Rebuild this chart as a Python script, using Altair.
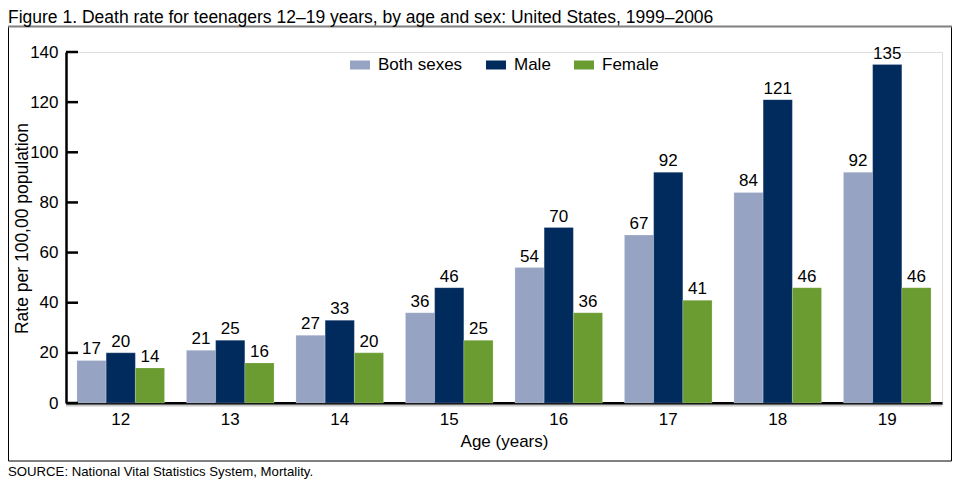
import altair as alt
import pandas as pd

ages = ["12", "13", "14", "15", "16", "17", "18", "19"]
both = [17, 21, 27, 36, 54, 67, 84, 92]
male = [20, 25, 33, 46, 70, 92, 121, 135]
female = [14, 16, 20, 25, 36, 41, 46, 46]
series = ["Both sexes", "Male", "Female"]
colors = ["#96A3C3", "#002B5C", "#6B9C32"]
y_ticks = [0, 20, 40, 60, 80, 100, 120, 140]
title_text = "Figure 1. Death rate for teenagers 12\u201319 years, by age and sex: United States, 1999\u20132006"
source_text = "SOURCE: National Vital Statistics System, Mortality."

FONT = "Liberation Sans"
FS = 17

rows = []
for i, a in enumerate(ages):
    for s, vals in zip(series, [both, male, female]):
        rows.append({"age": a, "sex": s, "rate": vals[i]})
df = pd.DataFrame(rows)

W, H = 876, 351

x = alt.X("age:N", sort=ages,
          scale=alt.Scale(paddingInner=0.2, paddingOuter=0.1),
          axis=alt.Axis(title="Age (years)", labelAngle=0, tickSize=0,
                        domainColor="black", domainWidth=3,
                        labelFont=FONT, labelFontSize=FS, labelColor="black",
                        labelPadding=8, titleFont=FONT, titleFontSize=FS,
                        titleFontWeight="normal", titleColor="black",
                        titlePadding=6))
y = alt.Y("rate:Q", scale=alt.Scale(domain=[0, 140], nice=False),
          axis=alt.Axis(title="Rate per 100,00 population", values=y_ticks,
                        tickSize=0, grid=False, domainColor="black",
                        domainWidth=2.5, labelFont=FONT, labelFontSize=FS,
                        labelColor="black", labelPadding=8,
                        titleFont=FONT, titleFontSize=17.5,
                        titleFontWeight="normal", titleColor="black",
                        titleX=-44, titleY=176, titleBaseline="middle"))
xo = alt.XOffset("sex:N", sort=series,
                 scale=alt.Scale(paddingInner=0, paddingOuter=0))
color = alt.Color("sex:N", sort=series,
                  scale=alt.Scale(domain=series, range=colors),
                  legend=alt.Legend(title=None, orient="none", direction="horizontal",
                                    legendX=284, legendY=3, padding=0,
                                    symbolType="M-1,-0.45H1V0.45H-1Z",
                                    symbolSize=400, symbolStrokeWidth=0,
                                    symbolOpacity=1,
                                    labelFont=FONT, labelFontSize=FS,
                                    labelColor="black", labelOffset=8,
                                    columnPadding=23))

base = alt.Chart(df)

bars = base.mark_bar(stroke="#ffffff", strokeWidth=0.4, strokeOpacity=0.5).encode(
    x=x, y=y, xOffset=xo, color=color)

labels = base.mark_text(baseline="alphabetic", dy=-6, font=FONT, fontSize=FS,
                        color="black").encode(
    x=alt.X("age:N", sort=ages), xOffset=xo, y="rate:Q", text="rate:Q")

tick_df = pd.DataFrame({"v": y_ticks})
ticks = alt.Chart(tick_df).mark_rule(color="black", strokeWidth=2.5).encode(
    y="v:Q", x=alt.value(0), x2=alt.value(12))

one = pd.DataFrame({"v": [0]})
shadow = alt.Chart(one).mark_rule(
    color="#c8c8c8", strokeWidth=2, yOffset=2.5).encode(
    y="v:Q", x=alt.value(0), x2=alt.value(W))

# frame around chart (relative to plot origin)
L, R, T, B = -57.5, 885.5, -25.5, 409
left_b = alt.Chart(one).mark_rule(color="black", strokeWidth=1).encode(
    x=alt.value(L), y=alt.value(T), y2=alt.value(B))
right_b = alt.Chart(one).mark_rule(color="black", strokeWidth=1).encode(
    x=alt.value(R), y=alt.value(T), y2=alt.value(B))
bottom_b = alt.Chart(one).mark_rule(color="black", strokeWidth=1).encode(
    x=alt.value(L), x2=alt.value(R), y=alt.value(B))
top_b = alt.Chart(one).mark_rule(color="#808080", strokeWidth=2).encode(
    x=alt.value(L - 0.5), x2=alt.value(R + 0.5), y=alt.value(T))

title = alt.Chart(pd.DataFrame({"t": [title_text]})).mark_text(
    align="left", baseline="alphabetic", font=FONT, fontSize=17.5, color="black").encode(
    x=alt.value(-58), y=alt.value(-29.5), text="t:N")

source = alt.Chart(pd.DataFrame({"t": [source_text]})).mark_text(
    align="left", baseline="alphabetic", font=FONT, fontSize=13.2, color="black").encode(
    x=alt.value(-58), y=alt.value(424), text="t:N")

chart = alt.layer(left_b, right_b, bottom_b, top_b, shadow, bars, labels, ticks,
                  title, source).properties(
    width=W, height=H,
    autosize=alt.AutoSizeParams(type="none"),
    padding={"left": 58, "top": 44, "right": 10, "bottom": 76},
).configure_view(stroke=None).configure(background="white")

chart.save("out.html", embed_options={"renderer": "svg", "actions": False})
